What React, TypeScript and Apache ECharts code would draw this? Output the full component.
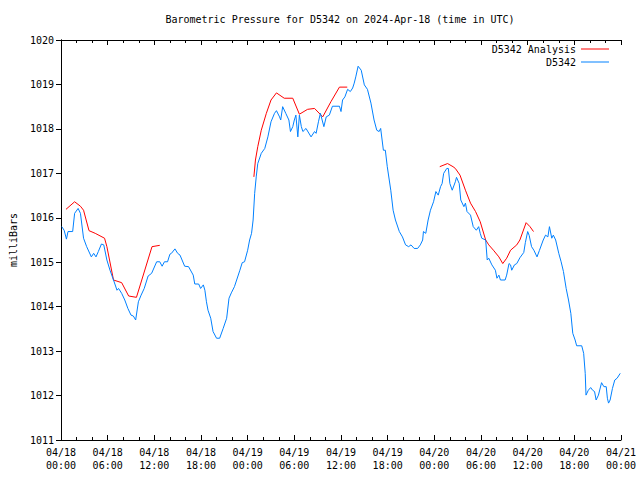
import React, { useEffect, useRef } from "react";
import * as echarts from "echarts";

const titleText = "Barometric Pressure for D5342 on 2024-Apr-18 (time in UTC)";
const yAxisName = "milliBars";
const seriesNames = ["D5342 Analysis", "D5342"];
const dayLabels = ["04/18", "04/19", "04/20", "04/21"];

// hours since 2024-04-18 00:00 UTC
const blueHours = [
  0.1, 0.4, 0.7, 0.9, 1.5, 1.75, 2.2, 2.5, 2.9, 3.3, 3.9, 4.2, 4.5, 4.8, 5.2, 5.5, 5.9, 6.3, 6.75, 7.2,
  7.4, 7.8, 8.2, 8.6, 9.0, 9.3, 9.6, 9.95, 10.3, 10.7, 11.2, 11.65, 12.3, 12.7, 13.0, 13.3, 13.7, 14.0, 14.2, 14.65,
  15.0, 15.3, 15.9, 16.4, 17.0, 17.2, 17.7, 17.95, 18.3, 18.5, 18.7, 18.9, 19.25, 19.55, 20.0, 20.4, 20.85, 21.3, 21.6, 21.9,
  22.3, 23.0, 23.3, 23.6, 24.0, 24.25, 24.5, 24.7, 24.9, 25.1, 25.3, 25.75, 26.2, 26.6, 27.0, 27.45, 27.7, 28.1, 28.25, 28.5,
  28.9, 29.3, 29.5, 29.8, 30.0, 30.2, 30.45, 30.65, 30.9, 31.1, 31.5, 32.15, 32.6, 32.8, 33.1, 33.35, 33.8, 34.1, 34.5, 34.9,
  35.8, 36.0, 36.2, 36.5, 36.85, 37.2, 37.5, 37.7, 37.9, 38.2, 38.6, 39.0, 39.4, 39.85, 40.25, 40.6, 40.9, 41.1, 41.45, 41.7,
  41.95, 42.4, 42.7, 43.0, 43.5, 43.9, 44.3, 44.7, 45.0, 45.4, 45.85, 46.2, 46.5, 46.6, 46.9, 47.2, 47.5, 47.9, 48.2, 48.5,
  48.8, 49.0, 49.2, 49.6, 49.8, 50.0, 50.3, 50.7, 50.85, 51.2, 51.4, 51.8, 52.0, 52.2, 52.65, 53.0, 53.4, 53.7, 53.9, 54.1,
  54.6, 54.8, 55.0, 55.4, 55.85, 56.05, 56.3, 56.5, 57.1, 57.3, 57.6, 57.8, 57.95, 58.3, 58.6, 59.0, 59.5, 59.7, 60.0, 60.2,
  60.5, 60.8, 61.2, 61.5, 62.0, 62.3, 62.6, 62.8, 63.1, 63.3, 63.6, 64.0, 64.3, 64.6, 64.95, 65.25, 65.55, 65.8, 66.1, 66.3,
  66.95, 67.2, 67.4, 67.5, 67.8, 68.1, 68.35, 68.6, 68.8, 69.1, 69.5, 69.8, 70.1, 70.25, 70.4, 70.6, 70.9, 71.2, 71.5, 71.9,
];
const bluePressure = [
  1015.8, 1015.72, 1015.52, 1015.69, 1015.69, 1016.1, 1016.21, 1016.1, 1015.54, 1015.35, 1015.12, 1015.2, 1015.12, 1015.24, 1015.41, 1015.39, 1015.05, 1014.82, 1014.6, 1014.37,
  1014.41, 1014.3, 1014.15, 1013.96, 1013.81, 1013.79, 1013.7, 1014.11, 1014.26, 1014.41, 1014.69, 1014.75, 1015.01, 1015.01, 1014.91, 1015.01, 1015.01, 1015.18, 1015.2, 1015.3,
  1015.2, 1015.16, 1014.91, 1014.9, 1014.71, 1014.51, 1014.51, 1014.41, 1014.49, 1014.37, 1014.11, 1013.92, 1013.74, 1013.44, 1013.29, 1013.29, 1013.51, 1013.74, 1014.19, 1014.31,
  1014.45, 1014.82, 1014.99, 1015.01, 1015.27, 1015.5, 1015.65, 1015.95, 1016.55, 1016.92, 1017.22, 1017.45, 1017.56, 1017.82, 1018.16, 1018.35, 1018.41, 1018.27, 1018.2, 1018.5,
  1018.35, 1018.2, 1017.94, 1018.05, 1018.2, 1018.31, 1017.82, 1018.31, 1018.05, 1017.94, 1018.01, 1017.82, 1017.94, 1017.9, 1018.16, 1018.35, 1018.05, 1018.27, 1018.31, 1018.51,
  1018.51, 1018.39, 1018.65, 1018.72, 1018.89, 1018.84, 1018.92, 1019.03, 1019.17, 1019.41, 1019.32, 1018.99, 1018.89, 1018.58, 1018.2, 1017.97, 1017.94, 1018.01, 1017.52, 1017.52,
  1017.15, 1016.62, 1016.17, 1015.95, 1015.69, 1015.57, 1015.39, 1015.35, 1015.39, 1015.31, 1015.31, 1015.39, 1015.5, 1015.69, 1015.65, 1015.95, 1016.17, 1016.36, 1016.59, 1016.51,
  1016.7, 1016.77, 1017.0, 1017.11, 1017.11, 1016.77, 1016.62, 1016.81, 1016.91, 1016.77, 1016.4, 1016.25, 1016.33, 1016.14, 1016.06, 1015.8, 1015.72, 1015.8, 1015.65, 1015.54,
  1015.5, 1015.05, 1015.09, 1014.94, 1014.82, 1014.64, 1014.71, 1014.6, 1014.6, 1014.71, 1014.97, 1014.94, 1014.82, 1014.94, 1014.97, 1015.1, 1015.22, 1015.44, 1015.69, 1015.6,
  1015.35, 1015.27, 1015.12, 1015.26, 1015.5, 1015.61, 1015.57, 1015.8, 1015.54, 1015.61, 1015.5, 1015.2, 1015.01, 1014.79, 1014.41, 1014.15, 1013.85, 1013.4, 1013.25, 1013.12,
  1013.12, 1012.95, 1012.5, 1012.01, 1012.12, 1012.18, 1012.12, 1012.09, 1011.9, 1012.01, 1012.29, 1012.2, 1012.2, 1011.94, 1011.83, 1011.9, 1012.16, 1012.35, 1012.39, 1012.5,
];

// null marks a break between analysis segments
const redHours = [
  0.64, 1.75, 2.5, 2.9, 3.6, 4.4, 5.6, 5.9, 6.75, 7.8, 8.7, 9.7, 11.7, 12.7,
  18,
  24.8, 25.0, 25.3, 25.75, 26.4, 27.0, 27.7, 28.7, 29.8, 30.65, 31.7, 32.6, 33.65, 34.7, 35.8, 36.8,
  42,
  48.7, 49.7, 50.4, 50.7, 51.3, 52.0, 52.65, 53.3, 53.9, 54.6, 55.0, 55.6, 56.3, 56.8, 57.3, 57.8, 58.6, 59.0, 59.8, 60.3, 60.75,
];
const redPressure: (number | null)[] = [
  1016.19, 1016.36, 1016.26, 1016.17, 1015.71, 1015.65, 1015.54, 1015.35, 1014.6, 1014.54, 1014.24, 1014.21, 1015.35, 1015.38,
  null,
  1016.92, 1017.3, 1017.6, 1017.97, 1018.35, 1018.65, 1018.81, 1018.69, 1018.69, 1018.33, 1018.44, 1018.46, 1018.27, 1018.61, 1018.94, 1018.94,
  null,
  1017.15, 1017.22, 1017.15, 1017.11, 1016.96, 1016.62, 1016.33, 1016.14, 1015.91, 1015.5, 1015.39, 1015.27, 1015.12, 1014.97, 1015.09, 1015.27, 1015.39, 1015.5, 1015.89, 1015.8, 1015.69,
];

const FONT = "DejaVu Sans Mono";
const RED = "#ff0000";
const BLUE = "#0080ff";

export default function App() {
  const ref = useRef<HTMLDivElement>(null);
  useEffect(() => {
    if (!ref.current) return;
    const chart = echarts.init(ref.current, undefined, { renderer: "svg" });
    const blueData = blueHours.map((h, i) => [h, bluePressure[i]]);
    const redData = redHours.map((h, i) => [h, redPressure[i] === null ? "-" : redPressure[i]]);
    const txt = { fontFamily: FONT, fontSize: 10, color: "#000" };
    const xLabel = (v: number) => {
      const d = Math.floor(v / 24);
      const hh = Math.round(v - d * 24);
      return dayLabels[d] + "\n" + (hh < 10 ? "0" : "") + hh + ":00";
    };
    const axisLine = { show: true, lineStyle: { color: "#000", width: 1 } };
    chart.setOption({
      animation: false,
      backgroundColor: "#fff",
      title: {
        text: titleText,
        left: 340,
        top: 14,
        textAlign: "center",
        padding: 0,
        textStyle: { ...txt, fontWeight: "normal" },
      },
      legend: [
        {
          data: [seriesNames[0]],
          right: 31,
          top: 44,
          align: "right",
          icon: "rect",
          itemWidth: 28,
          itemHeight: 1,
          itemGap: 0,
          padding: 0,
          textStyle: { ...txt },
          selectedMode: false,
        },
        {
          data: [seriesNames[1]],
          right: 31,
          top: 57,
          align: "right",
          icon: "rect",
          itemWidth: 28,
          itemHeight: 1,
          itemGap: 0,
          padding: 0,
          textStyle: { ...txt },
          selectedMode: false,
        },
      ],
      grid: { left: 59, right: 19, top: 40, bottom: 40, containLabel: false },
      xAxis: [
        {
          type: "value",
          position: "bottom",
          min: 0,
          max: 72,
          interval: 6,
          axisLine,
          axisTick: { show: true, inside: true, length: 5, lineStyle: { color: "#000" } },
          minorTick: { show: true, splitNumber: 3, length: 3, lineStyle: { color: "#000" } },
          splitLine: { show: false },
          axisLabel: {
            ...txt,
            formatter: xLabel,
            lineHeight: 13,
            margin: 6,
            showMinLabel: true,
            showMaxLabel: true,
          },
        },
        {
          type: "value",
          position: "top",
          min: 0,
          max: 72,
          interval: 6,
          axisLine,
          axisTick: { show: true, inside: true, length: 5, lineStyle: { color: "#000" } },
          minorTick: { show: true, splitNumber: 3, length: 3, lineStyle: { color: "#000" } },
          splitLine: { show: false },
          axisLabel: { show: false },
        },
      ],
      yAxis: [
        {
          type: "value",
          position: "left",
          min: 1011,
          max: 1020,
          interval: 1,
          name: yAxisName,
          nameLocation: "middle",
          nameRotate: 90,
          nameGap: 43,
          nameTextStyle: { ...txt },
          axisLine,
          axisTick: { show: true, inside: false, length: 5, lineStyle: { color: "#000" } },
          splitLine: { show: false },
          axisLabel: { ...txt, margin: 7, formatter: (v: number) => String(v) },
        },
        {
          type: "value",
          position: "right",
          min: 1011,
          max: 1020,
          interval: 1,
          axisLine,
          axisTick: { show: true, inside: true, length: 5, lineStyle: { color: "#000" } },
          splitLine: { show: false },
          axisLabel: { show: false },
        },
      ],
      series: [
        {
          name: seriesNames[0],
          type: "line",
          data: redData,
          symbol: "none",
          color: RED,
          connectNulls: false,
          lineStyle: { color: RED, width: 1 },
          itemStyle: { color: RED },
        },
        {
          name: seriesNames[1],
          type: "line",
          data: blueData,
          symbol: "none",
          color: BLUE,
          lineStyle: { color: BLUE, width: 1 },
          itemStyle: { color: BLUE },
        },
      ],
    });
    return () => chart.dispose();
  }, []);
  return (
    <div
      ref={ref}
      style={{ position: "absolute", left: 0, top: 0, width: 640, height: 480, background: "#fff" }}
    />
  );
}
